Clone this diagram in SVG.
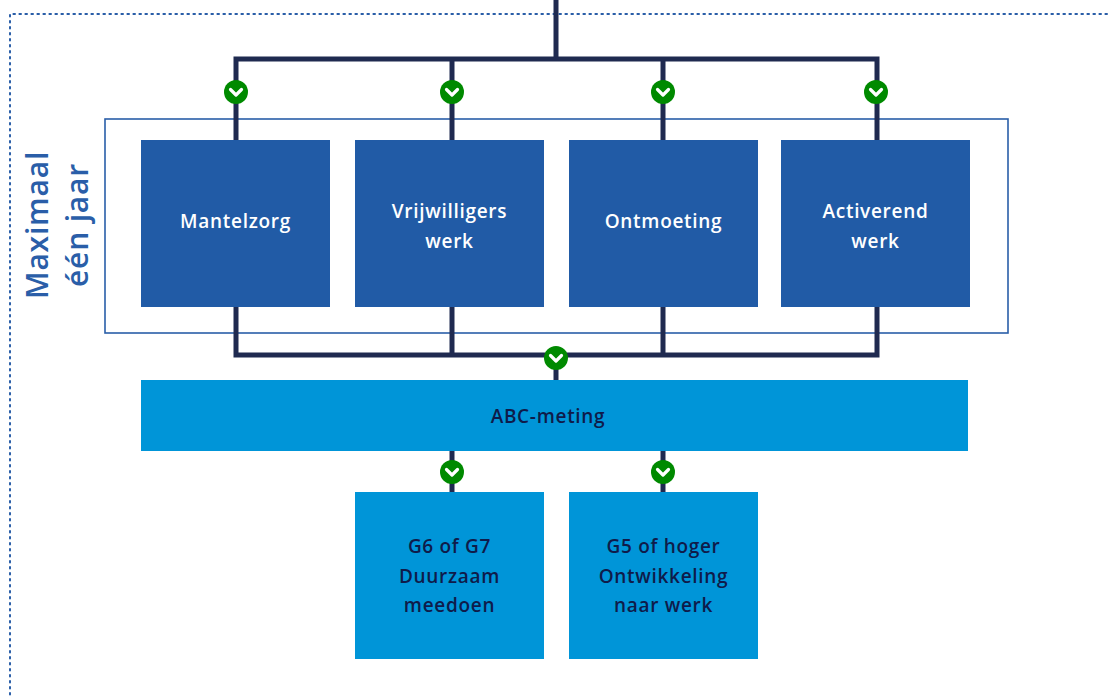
<svg xmlns="http://www.w3.org/2000/svg" width="1110" height="697" viewBox="0 0 1110 697">
<style>
.frame{fill:none;stroke:#2a5ea8;stroke-width:2;stroke-dasharray:1.6 4.4;stroke-linecap:round}
.group{fill:none;stroke:#2a5ea8;stroke-width:1.6}
.dark{fill:#215ba6}
.light{fill:#0095d8}
.wt{fill:#ffffff;font-family:"Open Sans","Liberation Sans",sans-serif;font-weight:600;font-size:19px;letter-spacing:0.7px;text-anchor:middle}
.nt{fill:#0f1b4a;font-family:"Open Sans","Liberation Sans",sans-serif;font-weight:600;font-size:19px;letter-spacing:0.7px;text-anchor:middle}
.side{fill:#2a5ea8;font-family:"Open Sans","Liberation Sans",sans-serif;font-weight:600;font-size:30px;letter-spacing:0.8px;text-anchor:middle}
.wire{fill:none;stroke:#1f2a50;stroke-width:5}
</style>
<defs>
<g id="chk">
<circle r="12" fill="#008a00"/>
<path d="M-5.5,-2.5 L0,3 L5.5,-2.5" fill="none" stroke="#ffffff" stroke-width="3.2" stroke-linecap="round" stroke-linejoin="round"/>
</g>
</defs>
<g id="frame">
<path class="frame" d="M1107,14 H10 V697"/>
</g>
<g id="side-label">
<text class="side" transform="translate(48,225) rotate(-90)">Maximaal</text>
<text class="side" transform="translate(88,225) rotate(-90)">één jaar</text>
</g>
<g id="group-box">
<rect class="group" x="105" y="119" width="903" height="214"/>
</g>
<g id="connectors">
<path class="wire" d="M556,0 V59 M236,140 V59 H877 V140 M452,59 V140 M663,59 V140"/>
<path class="wire" d="M236,307 V355 H877 V307 M452,307 V355 M663,307 V355 M556,355 V380"/>
<path class="wire" d="M452,451 V492 M663,451 V492"/>
<use href="#chk" x="236" y="92"/>
<use href="#chk" x="452" y="92"/>
<use href="#chk" x="663" y="92"/>
<use href="#chk" x="876" y="92"/>
<use href="#chk" x="556" y="358"/>
<use href="#chk" x="452" y="472"/>
<use href="#chk" x="663" y="472"/>
</g>
<g id="mantelzorg">
<rect class="dark" x="141" y="140" width="189" height="167"/>
<text class="wt" x="235.5" y="228">Mantelzorg</text>
</g>
<g id="vrijwilligerswerk">
<rect class="dark" x="355" y="140" width="189" height="167"/>
<text class="wt" x="449.5" y="218">Vrijwilligers</text>
<text class="wt" x="449.5" y="248">werk</text>
</g>
<g id="ontmoeting">
<rect class="dark" x="569" y="140" width="189" height="167"/>
<text class="wt" x="663.5" y="228">Ontmoeting</text>
</g>
<g id="activerend-werk">
<rect class="dark" x="781" y="140" width="189" height="167"/>
<text class="wt" x="875.5" y="218">Activerend</text>
<text class="wt" x="875.5" y="248">werk</text>
</g>
<g id="abc-meting">
<rect class="light" x="141" y="380" width="827" height="71"/>
<text class="nt" x="548" y="423">ABC-meting</text>
</g>
<g id="g6g7">
<rect class="light" x="355" y="492" width="189" height="167"/>
<text class="nt" x="449.5" y="553">G6 of G7</text>
<text class="nt" x="449.5" y="583">Duurzaam</text>
<text class="nt" x="449.5" y="612">meedoen</text>
</g>
<g id="g5">
<rect class="light" x="569" y="492" width="189" height="167"/>
<text class="nt" x="663.5" y="553">G5 of hoger</text>
<text class="nt" x="663.5" y="583">Ontwikkeling</text>
<text class="nt" x="663.5" y="612">naar werk</text>
</g>
</svg>
